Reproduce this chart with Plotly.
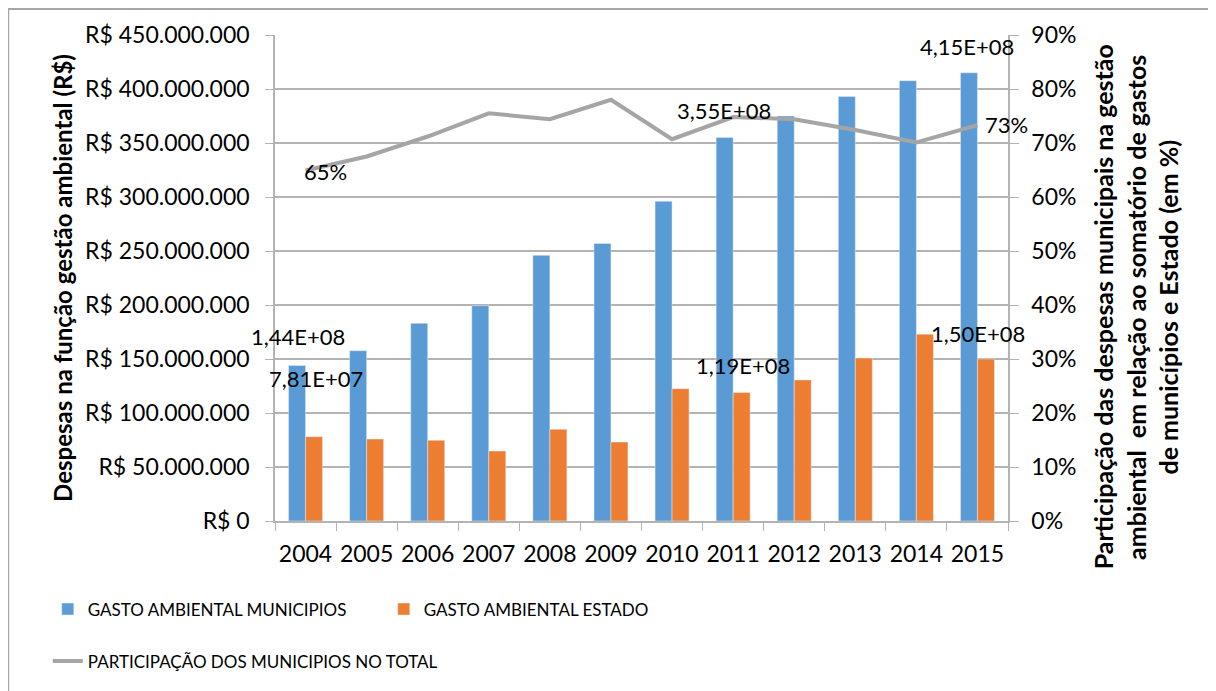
import plotly.graph_objects as go

# Data
anos = ["2004", "2005", "2006", "2007", "2008", "2009",
        "2010", "2011", "2012", "2013", "2014", "2015"]
gasto_municipios = [144.0e6, 157.7e6, 183.0e6, 199.4e6, 246.0e6, 257.0e6,
                    296.0e6, 355.0e6, 375.0e6, 393.0e6, 407.7e6, 415.0e6]
gasto_estado = [78.1e6, 75.9e6, 74.7e6, 64.8e6, 84.9e6, 73.1e6,
                122.5e6, 119.0e6, 130.6e6, 150.9e6, 173.0e6, 150.0e6]
participacao = [0.649, 0.675, 0.712, 0.755, 0.744, 0.780,
                0.707, 0.748, 0.744, 0.724, 0.701, 0.733]

AZUL = "#5b9bd5"
LARANJA = "#ed7d31"
CINZA = "#a5a5a5"
GRADE = "#b3b3b3"
FONTE = "Lato"


def excel_sci(v):
    # "1,44E+08" style, like Excel with pt-BR separators
    mant, exp = f"{v:.2E}".split("E")
    return f"{mant.replace('.', ',')}E+{int(exp):02d}"


fig = go.Figure()

fig.add_trace(go.Bar(x=anos, y=gasto_municipios, name="GASTO AMBIENTAL MUNICIPIOS",
                     marker_color=AZUL, legend="legend"))
fig.add_trace(go.Bar(x=anos, y=gasto_estado, name="GASTO AMBIENTAL ESTADO",
                     marker_color=LARANJA, legend="legend"))
fig.add_trace(go.Scatter(x=anos, y=participacao, name="PARTICIPAÇÃO DOS MUNICIPIOS NO TOTAL",
                         mode="lines", line=dict(color=CINZA, width=4),
                         yaxis="y2", legend="legend2"))

# Data labels (only some points are labelled in the original)
rotulos = [
    # (serie, indice, xshift, yshift)
    (gasto_municipios, 0, -7.5, 28.5),
    (gasto_estado, 0, 10.5, 58.6),
    (gasto_municipios, 7, -9, 27.6),
    (gasto_estado, 7, 9.5, 26.5),
    (gasto_municipios, 11, -10, 26.8),
    (gasto_estado, 11, 0.5, 26),
]
for serie, i, dx, dy in rotulos:
    fig.add_annotation(x=i, y=serie[i], xref="x", yref="y",
                       text=excel_sci(serie[i]), showarrow=False,
                       xshift=dx, yshift=dy, font=dict(family=FONTE, size=22, color="black"))

for i, dx, dy in [(0, 19.5, -1), (11, 29.4, 1)]:
    fig.add_annotation(x=i, y=participacao[i], xref="x", yref="y2",
                       text=f"{round(participacao[i] * 100)}%", showarrow=False,
                       xshift=dx, yshift=dy, font=dict(family=FONTE, size=22, color="black"))

# Right axis title, three lines
titulo_dir = ["Participação das despesas municipais na gestão",
              "ambiental  em relação ao somatório de gastos",
              "de municípios e Estado (em %)"]
for k, linha in enumerate(titulo_dir):
    fig.add_annotation(x=1.153 + k * 0.0445, y=0.44, xref="paper", yref="paper",
                       text=f"<b>{linha}</b>", textangle=-90, showarrow=False,
                       font=dict(family=FONTE, size=25, color="black"))

# Outer chart frame
fig.add_shape(type="rect", xref="paper", yref="paper",
              x0=-0.364, x1=1.32, y0=-0.42, y1=1.0535,
              line=dict(color="#a6a6a6", width=2))

# page body has an 8px margin, so the figure is 8px smaller than the window
fig.update_layout(
    width=1208, height=683,
    margin=dict(l=267, r=208, t=27, b=170),
    paper_bgcolor="white", plot_bgcolor="white",
    separators=",.",
    barmode="group", bargap=0.444, bargroupgap=0,
    font=dict(family=FONTE, size=21, color="black"),
    showlegend=True,
    legend=dict(orientation="h", x=-0.31, y=-0.145, xanchor="left", yanchor="top",
                entrywidth=291, font=dict(family=FONTE, size=17), bgcolor="rgba(0,0,0,0)"),
    legend2=dict(orientation="h", x=-0.31, y=-0.252, xanchor="left", yanchor="top",
                 font=dict(family=FONTE, size=17), bgcolor="rgba(0,0,0,0)"),
    xaxis=dict(type="category", range=[-0.5, 11.5], showline=True, linecolor=GRADE,
               linewidth=1.5, ticks="outside", tickson="boundaries", ticklen=8,
               tickcolor=GRADE, tickfont=dict(size=23), tickangle=0, ticklabelstandoff=12,
               showgrid=False),
    yaxis=dict(range=[0, 450e6], dtick=50e6, tickformat=",.0f", tickprefix="R$ ",
               showline=True, linecolor=GRADE, linewidth=1.5, ticks="outside",
               ticklen=8, tickcolor=GRADE, showgrid=True, gridcolor=GRADE, gridwidth=1.5,
               ticklabelstandoff=11, zeroline=False, tickfont=dict(size=23),
               title=dict(text="<b>Despesas na função gestão ambiental (R$)</b>",
                          font=dict(size=24), standoff=6)),
    yaxis2=dict(range=[0, 0.9], dtick=0.1, tickformat=".0%", overlaying="y", side="right",
                showline=True, linecolor=GRADE, linewidth=1.5, ticks="outside",
                ticklen=9, tickcolor=GRADE, showgrid=False, zeroline=False,
                ticklabelstandoff=8, tickfont=dict(size=23)),
)

fig.write_html("out.html")
